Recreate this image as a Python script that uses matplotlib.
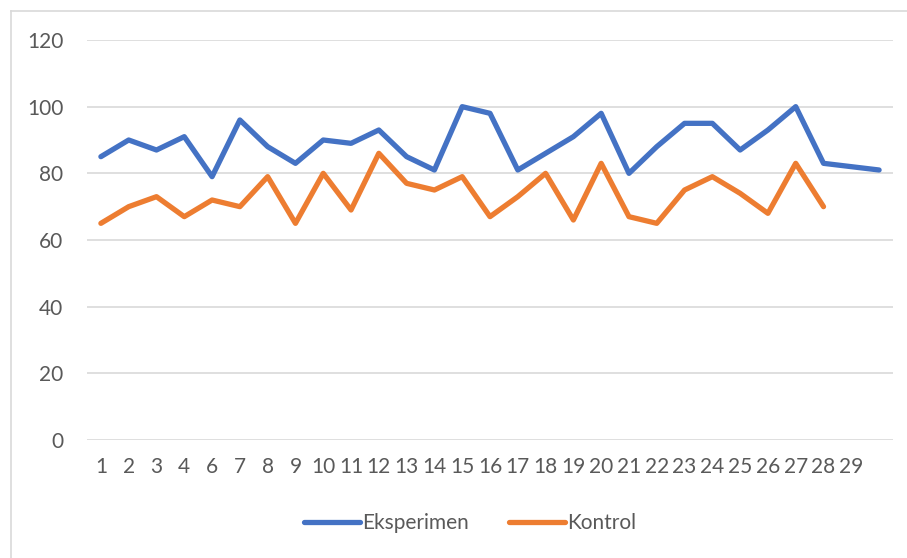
import matplotlib
matplotlib.use("Agg")
import matplotlib.pyplot as plt
import numpy as np

labels = ["1", "2", "3", "4", "6", "7", "8", "9", "10", "11", "12", "13", "14", "15",
          "16", "17", "18", "19", "20", "21", "22", "23", "24", "25", "26", "27", "28", "29", ""]
eksperimen = [85, 90, 87, 91, 79, 96, 88, 83, 90, 89, 93, 85, 81, 100, 98, 81, 86, 91, 98,
              80, 88, 95, 95, 87, 93, 100, 83, 82, 81]
kontrol = [65, 70, 73, 67, 72, 70, 79, 65, 80, 69, 86, 77, 75, 79, 67, 73, 80, 66, 83,
           67, 65, 75, 79, 74, 68, 83, 70]
yticks = [0, 20, 40, 60, 80, 100, 120]

plt.rcParams['font.family'] = ['Lato', 'DejaVu Sans']

W, H = 907, 558
fig = plt.figure(figsize=(W / 100, H / 100), dpi=100)
ax = fig.add_axes([87 / W, 1 - 440 / H, (893 - 87) / W, 400 / H])

x = np.arange(len(labels))
ax.plot(x[:len(eksperimen)], eksperimen, color="#4472C4", lw=3.8, label="Eksperimen",
        solid_joinstyle="round", solid_capstyle="round")
ax.plot(x[:len(kontrol)], kontrol, color="#ED7D31", lw=3.8, label="Kontrol",
        solid_joinstyle="round", solid_capstyle="round")

ax.set_xlim(-0.5, len(labels) - 0.5)
ax.set_ylim(0, 120)
ax.set_yticks(yticks)
ax.set_xticks(x)
ax.set_xticklabels(labels)
ax.grid(axis="y", color="#D9D9D9", lw=1.2)
ax.set_axisbelow(True)
for s in ax.spines.values():
    s.set_visible(False)
ax.tick_params(length=0, labelsize=15, colors="#595959")
ax.tick_params(axis="y", pad=17)
ax.tick_params(axis="x", pad=12)

leg = ax.legend(loc="center", bbox_to_anchor=(470 / W, 1 - 523 / H), bbox_transform=fig.transFigure,
                ncol=2, frameon=False, fontsize=15, handlelength=2.7, columnspacing=1.9,
                handletextpad=0.1)
for t in leg.get_texts():
    t.set_color("#595959")

# chart frame (left and top edges visible)
fig.add_artist(plt.Line2D([10.5 / W, 10.5 / W], [0, 1 - 11 / H], transform=fig.transFigure,
                          color="#D9D9D9", lw=1.2))
fig.add_artist(plt.Line2D([10.5 / W, 1], [1 - 11 / H, 1 - 11 / H], transform=fig.transFigure,
                          color="#D9D9D9", lw=1.2))

fig.savefig("out.png", dpi=100)
